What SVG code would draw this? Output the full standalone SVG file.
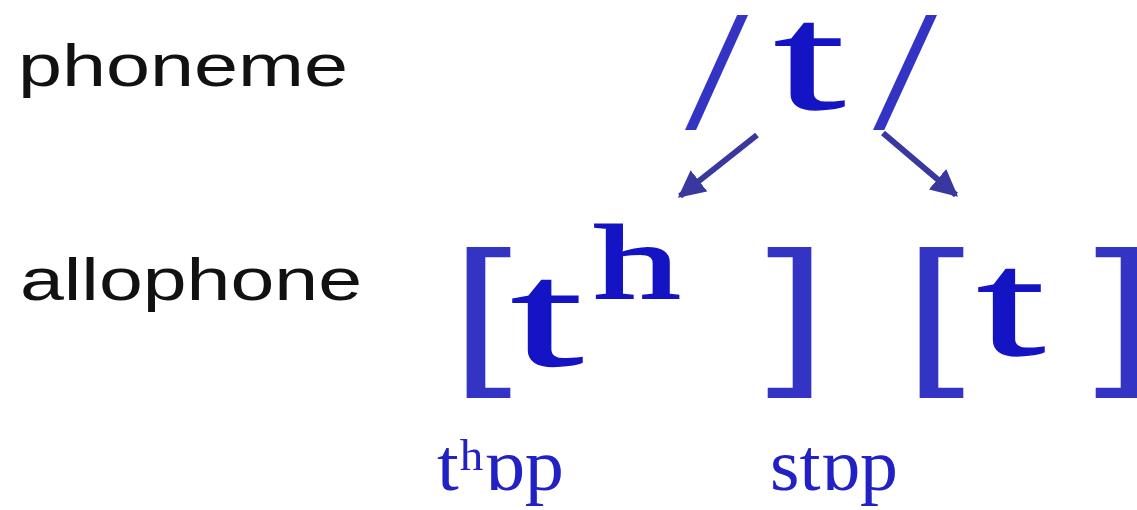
<svg xmlns="http://www.w3.org/2000/svg" width="1137" height="510" viewBox="0 0 1137 510">
<style>
.lbl{font-family:"Liberation Sans",Arial,sans-serif;font-size:60px;fill:#111}
.sl{font-family:"Liberation Serif","Times New Roman",serif;font-size:171px;fill:#3434c4}
.br{font-family:"Liberation Sans",Arial,sans-serif;font-size:162px;fill:#3434c4}
.tt{font-family:"Liberation Serif","Times New Roman",serif;font-size:150px;fill:#1414c4;stroke:#1414c4;stroke-width:1.5}
.hh{font-family:"Liberation Serif","Times New Roman",serif;font-size:106px;fill:#1414c4;stroke:#1414c4;stroke-width:2}
.ex{font-family:"Liberation Serif","DejaVu Serif",serif;font-size:73px;fill:#2222c4}
.arr{stroke:#38389e;stroke-width:6;fill:none}
</style>
<defs>
<marker id="ah" viewBox="0 0 10 10" refX="9" refY="5" markerWidth="4.5" markerHeight="4.5" orient="auto" markerUnits="strokeWidth">
<path d="M0,0 L10,5 L0,10 z" fill="#38389e"/>
</marker>
</defs>
<rect width="1137" height="510" fill="#fff"/>
<g id="labels">
<text class="lbl" x="18" y="86" textLength="330" lengthAdjust="spacingAndGlyphs">phoneme</text>
<text class="lbl" x="20" y="300" textLength="342" lengthAdjust="spacingAndGlyphs">allophone</text>
</g>
<g id="phoneme-t">
<text class="sl" x="685" y="128" textLength="63" lengthAdjust="spacingAndGlyphs">/</text>
<text class="tt" x="774" y="109" textLength="71" lengthAdjust="spacingAndGlyphs">t</text>
<text class="sl" x="873" y="128" textLength="64" lengthAdjust="spacingAndGlyphs">/</text>
</g>
<g id="connectors">
<line class="arr" x1="757" y1="135" x2="680" y2="196" marker-end="url(#ah)"/>
<line class="arr" x1="883" y1="133" x2="956" y2="195" marker-end="url(#ah)"/>
</g>
<g id="allophone-th">
<text class="br" x="451" y="364" textLength="61" lengthAdjust="spacingAndGlyphs">[</text>
<text class="tt" x="511" y="365" textLength="72" lengthAdjust="spacingAndGlyphs">t</text>
<text class="hh" x="594" y="298" textLength="86" lengthAdjust="spacingAndGlyphs">h</text>
<text class="br" x="766" y="364" textLength="61" lengthAdjust="spacingAndGlyphs">]</text>
<text class="ex" x="437" y="490" textLength="127" lengthAdjust="spacingAndGlyphs">tʰɒp</text>
</g>
<g id="allophone-t">
<text class="br" x="904" y="364" textLength="61" lengthAdjust="spacingAndGlyphs">[</text>
<text class="tt" x="977" y="355" textLength="68" lengthAdjust="spacingAndGlyphs">t</text>
<text class="br" x="1094" y="364" textLength="61" lengthAdjust="spacingAndGlyphs">]</text>
<text class="ex" x="770" y="490" textLength="128" lengthAdjust="spacingAndGlyphs">stɒp</text>
</g>
</svg>
